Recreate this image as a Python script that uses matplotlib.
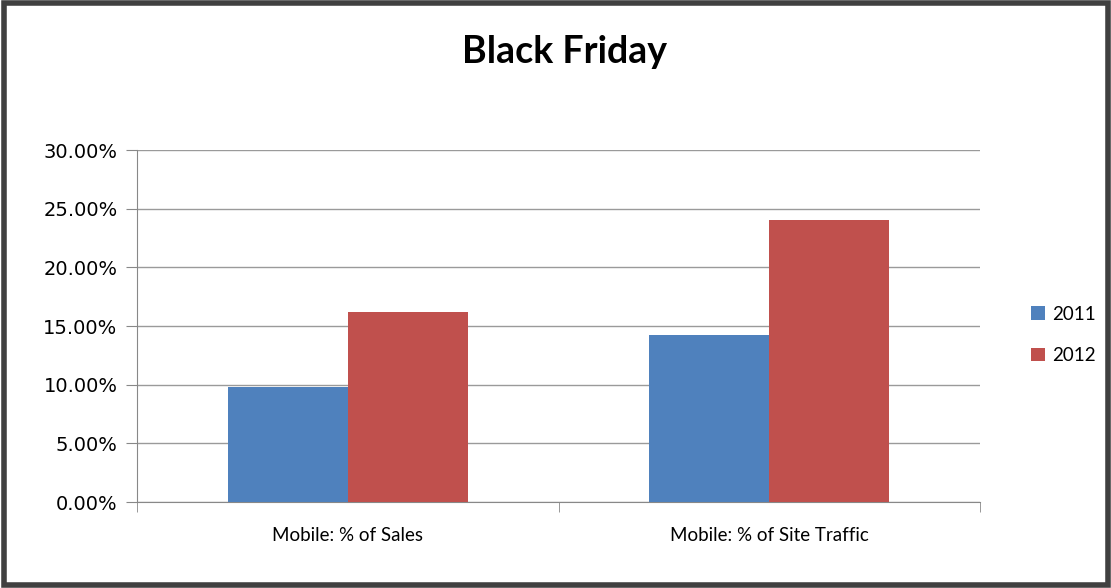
import numpy as np
import matplotlib.pyplot as plt
from matplotlib.patches import Rectangle
from matplotlib.ticker import PercentFormatter

categories = ["Mobile: % of Sales", "Mobile: % of Site Traffic"]
years = ["2011", "2012"]
values_2011 = [9.8, 14.25]
values_2012 = [16.2, 24.0]
colors = ["#4F81BD", "#C0504D"]

fig = plt.figure(figsize=(11.11, 5.88), dpi=100)
ax = fig.add_axes([137 / 1111, 86 / 588, 843 / 1111, 352 / 588])

x = np.arange(len(categories))
w = 0.285
ax.bar(x - w / 2, values_2011, w, color=colors[0], label=years[0], zorder=3)
ax.bar(x + w / 2, values_2012, w, color=colors[1], label=years[1], zorder=3)

ax.set_xlim(-0.5, 1.5)
ax.set_ylim(0, 30)
ax.set_yticks(np.arange(0, 31, 5))
ax.yaxis.set_major_formatter(PercentFormatter(decimals=2))
ax.grid(axis="y", color="#9a9a9a", linewidth=1, zorder=0)

ax.set_xticks(x)
ax.set_xticklabels(categories, family="Lato", fontsize=13.5)
ax.set_xticks([-0.5, 0.5, 1.5], minor=True)
ax.tick_params(axis="x", which="major", length=0, pad=18)
ax.tick_params(axis="x", which="minor", length=7, color="#888888", direction="out")
ax.tick_params(axis="y", length=8, color="#888888", labelsize=14, pad=6)

for s in ["top", "right"]:
    ax.spines[s].set_visible(False)
for s in ["left", "bottom"]:
    ax.spines[s].set_color("#888888")

ax.legend(loc="center left", bbox_to_anchor=(1.04, 0.475), frameon=False,
          prop={"family": "Lato", "size": 13.5}, handlelength=0.75, handleheight=0.75,
          labelspacing=1.3, handletextpad=0.4)

fig.text(565 / 1111, 1 - 52 / 588, "Black Friday", ha="center", va="center",
         family="Lato", fontweight="bold", fontsize=27)

fig.patches.append(Rectangle((0.004, 0.005), 0.993, 0.99, transform=fig.transFigure,
                             fill=False, edgecolor="#404040", linewidth=4))

fig.savefig("out.png", dpi=100)
